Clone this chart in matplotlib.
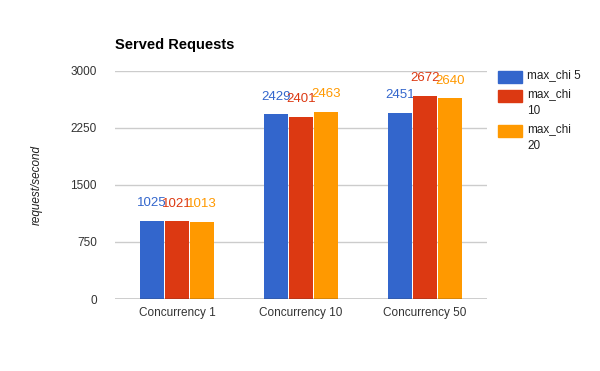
import matplotlib.pyplot as plt
import numpy as np
from matplotlib.patches import Rectangle

plt.rcParams['font.family'] = ['Liberation Sans', 'DejaVu Sans']

categories = ["Concurrency 1", "Concurrency 10", "Concurrency 50"]
series_names = ["max_chi 5", "max_chi\n10", "max_chi\n20"]
chi5 = [1025, 2429, 2451]
chi10 = [1021, 2401, 2672]
chi20 = [1013, 2463, 2640]
yticks = [0, 750, 1500, 2250, 3000]

colors = ["#3366cc", "#dc3912", "#ff9900"]

fig = plt.figure(figsize=(6, 3.71), dpi=100)
ax = fig.add_axes([115/600, 1-299/371, 372/600, 228/371])

x = np.arange(len(categories))
w = 0.2
for i, vals in enumerate([chi5, chi10, chi20]):
    pos = x + (i - 1) * w
    ax.bar(pos, vals, width=w - 0.008, color=colors[i], zorder=3)
    for p, v in zip(pos, vals):
        ax.annotate(str(v), (p, v), xytext=(0, 8.5), textcoords="offset points",
                    ha="center", va="bottom", fontsize=9.5, color=colors[i])

ax.set_xlim(-0.5, 2.5)
ax.set_ylim(0, 3000)
ax.set_yticks(yticks)
ax.set_yticklabels([str(t) for t in yticks])
ax.set_xticks(x)
ax.set_xticklabels(categories)
ax.tick_params(length=0, labelsize=8.5, colors="#333333")
ax.tick_params(axis="y", pad=13)
ax.tick_params(axis="x", pad=6)
ax.grid(axis="y", color="#cccccc", linewidth=1, zorder=0)
for s in ax.spines.values():
    s.set_visible(False)
ax.axhline(0, color="#333333", linewidth=1, zorder=4)

fig.text(115/600, 1-45/371, "Served Requests", fontsize=10.5, fontweight="bold",
         ha="left", va="center", color="#000000")
fig.text(37/600, 1-185/371, "request/second", rotation=90, fontstyle="italic",
         fontsize=8.5, ha="center", va="center", color="#222222")

# legend
leg_y = [71, 90, 125]
for i, name in enumerate(series_names):
    fig.add_artist(Rectangle((498/600, 1-(leg_y[i]+12)/371), 24/600, 12/371,
                             transform=fig.transFigure, color=colors[i]))
    fig.text(527/600, 1-(leg_y[i]-2)/371, name, fontsize=8.5, ha="left", va="top",
             color="#222222", linespacing=1.55)

fig.savefig("out.png", dpi=100)
